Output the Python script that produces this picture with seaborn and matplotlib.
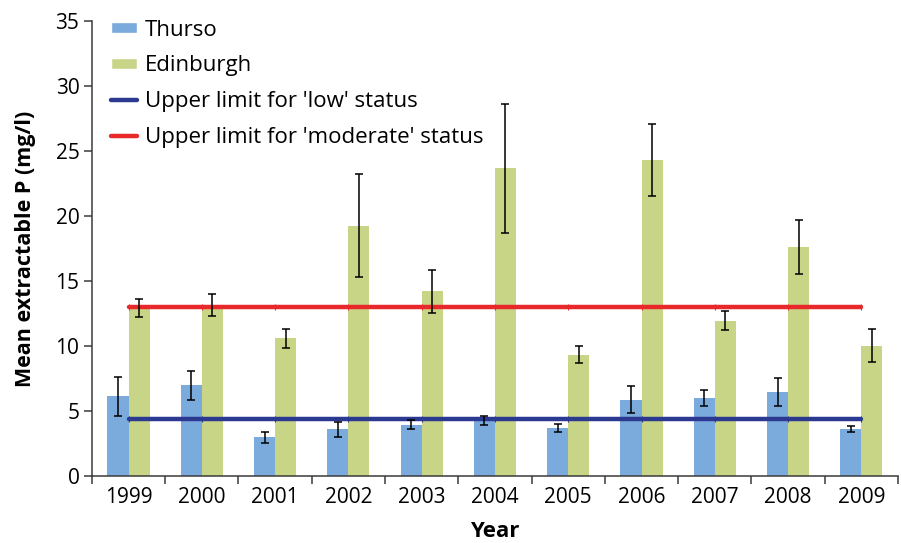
import numpy as np
import pandas as pd
import matplotlib
matplotlib.use("Agg")
import matplotlib.pyplot as plt
from matplotlib.patches import Patch
from matplotlib.lines import Line2D
import seaborn as sns

# Mean extractable phosphorus per year, with standard errors
years = ["1999", "2000", "2001", "2002", "2003", "2004",
         "2005", "2006", "2007", "2008", "2009"]
thurso = [6.1, 6.95, 2.95, 3.57, 3.93, 4.25, 3.66, 5.86, 5.99, 6.43, 3.58]
thurso_err = [1.5, 1.1, 0.4, 0.57, 0.35, 0.36, 0.3, 1.04, 0.59, 1.07, 0.22]
edinburgh = [12.9, 13.15, 10.57, 19.25, 14.2, 23.67, 9.33, 24.3, 11.95, 17.6, 10.02]
edinburgh_err = [0.7, 0.82, 0.75, 3.97, 1.66, 4.95, 0.64, 2.78, 0.75, 2.1, 1.26]

sites = ["Thurso", "Edinburgh"]
low_limit = 4.4
moderate_limit = 13.0

site_colors = {"Thurso": "#7BAADC", "Edinburgh": "#C8D587"}
low_color = "#2B3990"
moderate_color = "#E8282B"
axis_color = "#3A3A3A"

sns.set_theme(style="white")
plt.rcParams["font.family"] = ["Open Sans", "DejaVu Sans"]
plt.rcParams["text.color"] = "black"

df = pd.DataFrame({
    "Year": years * 2,
    "P": thurso + edinburgh,
    "Site": ["Thurso"] * len(years) + ["Edinburgh"] * len(years),
})

fig = plt.figure(figsize=(9.01, 5.43), dpi=100)
ax = fig.add_axes([0.102, 0.124, 0.8947, 0.8366])

sns.barplot(data=df, x="Year", y="P", hue="Site", order=years,
            hue_order=sites, palette=site_colors, width=0.575,
            saturation=1, errorbar=None, legend=False, ax=ax,
            edgecolor="none", linewidth=0)

# Error bars centred on each bar
for container, errs in zip(ax.containers, [thurso_err, edinburgh_err]):
    xs = [p.get_x() + p.get_width() / 2 for p in container.patches]
    hs = [p.get_height() for p in container.patches]
    ax.errorbar(xs, hs, yerr=errs, fmt="none", ecolor="black",
                elinewidth=1.1, capsize=3.2, capthick=1.1, zorder=4)

# Status threshold lines
pos = np.arange(len(years))
ax.plot(pos, [low_limit] * len(years), color=low_color, lw=3.2,
        marker="|", ms=5, mew=0.8, zorder=3)
ax.plot(pos, [moderate_limit] * len(years), color=moderate_color, lw=3.2,
        marker="|", ms=5, mew=0.8, zorder=3)

ax.set_ylim(0, 35)
ax.set_xlim(-0.5, len(years) - 0.5)
ax.set_yticks(np.arange(0, 36, 5))

# Category boundaries as ticks, labels at category centres
ax.set_xticks(np.arange(-0.5, len(years), 1.0))
ax.set_xticklabels([])
ax.set_xticks(pos, minor=True)
ax.set_xticklabels(years, minor=True)
ax.tick_params(axis="x", which="major", direction="out", length=6,
               width=1.1, color=axis_color, bottom=True)
ax.tick_params(axis="x", which="minor", length=0, pad=8.5, labelsize=15,
               labelcolor="black")
ax.tick_params(axis="y", direction="out", length=6, width=1.1,
               color=axis_color, left=True, pad=3, labelsize=15,
               labelcolor="black")

for side in ["top", "right"]:
    ax.spines[side].set_visible(False)
for side in ["left", "bottom"]:
    ax.spines[side].set_color(axis_color)
    ax.spines[side].set_linewidth(1.1)

ax.set_xlabel("Year", fontsize=16, fontweight="bold", labelpad=9,
              color="black")
ax.set_ylabel("Mean extractable P (mg/l)", fontsize=15.5, fontweight="bold",
              color="black")
ax.yaxis.set_label_coords(-0.069, 0.5)

handles = [
    Patch(facecolor=site_colors["Thurso"], label="Thurso"),
    Patch(facecolor=site_colors["Edinburgh"], label="Edinburgh"),
    Line2D([], [], color=low_color, lw=3.2, label="Upper limit for 'low' status"),
    Line2D([], [], color=moderate_color, lw=3.2,
           label="Upper limit for 'moderate' status"),
]
leg = ax.legend(handles=handles, loc="upper left", bbox_to_anchor=(0.024, 1.004),
                frameon=False, fontsize=16, handlelength=1.15, handleheight=0.4,
                handletextpad=0.35, labelspacing=0.66, borderpad=0,
                borderaxespad=0)
for t in leg.get_texts():
    t.set_color("black")

fig.savefig("out.png", dpi=100)
